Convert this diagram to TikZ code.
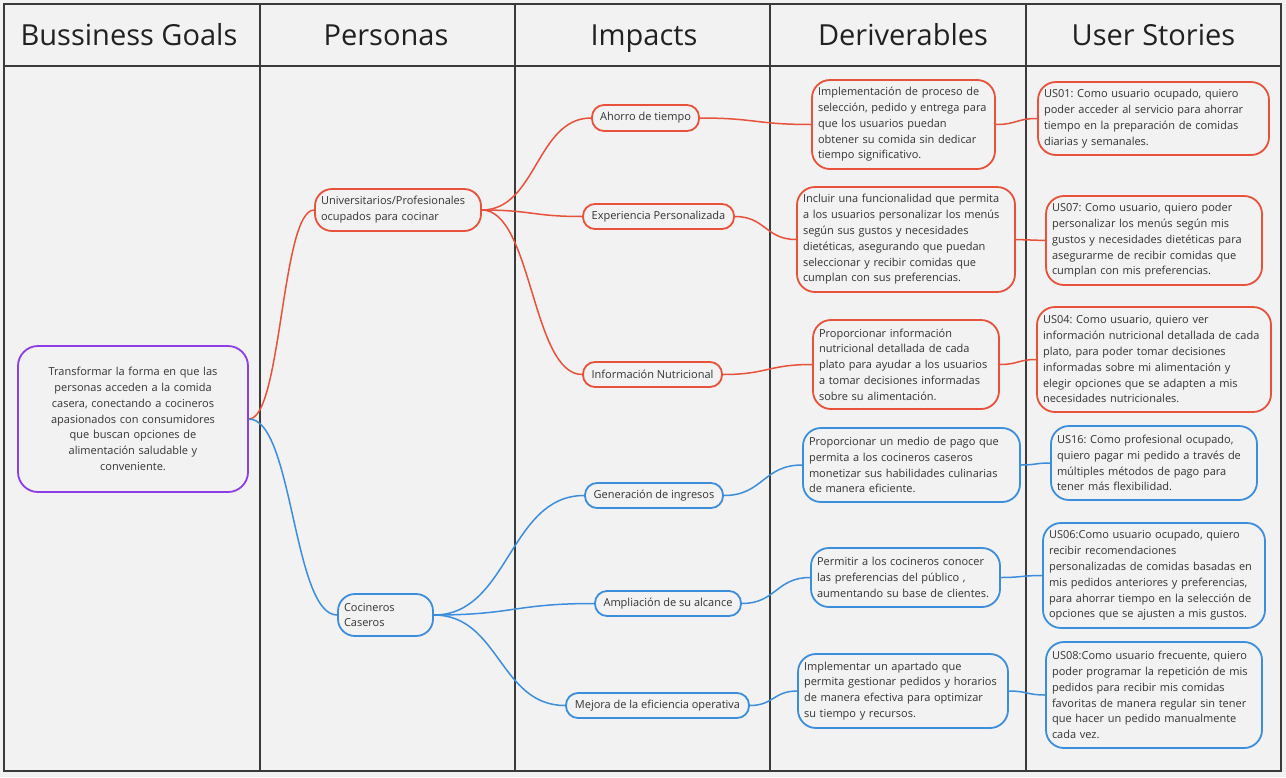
\documentclass[tikz,border=0pt]{standalone}
\usepackage{fontspec}
\setmainfont{Open Sans}
\usetikzlibrary{calc}
\frenchspacing
\definecolor{bg}{HTML}{F2F2F2}
\definecolor{gridc}{HTML}{3A3A3A}
\definecolor{redc}{HTML}{E8513A}
\definecolor{bluec}{HTML}{3C8EDC}
\definecolor{purc}{HTML}{8E3DE6}
\definecolor{txt}{HTML}{333333}
\begin{document}
\begin{tikzpicture}[x=1pt,y=-1pt,
  every node/.style={text=txt, font=\fontsize{11}{15.8}\selectfont},
  box/.style={draw, line width=1.8pt, rounded corners=18pt, align=left, inner xsep=6pt, inner ysep=0pt},
  pill/.style={draw, line width=1.8pt, rounded corners=12pt, inner sep=0pt, align=center},
  pbox/.style={draw, line width=1.8pt, rounded corners=17pt, align=left, inner xsep=6pt, inner ysep=0pt},
  rbox/.style={box, draw=redc},
  bbox/.style={box, draw=bluec},
  rpill/.style={pill, draw=redc},
  bpill/.style={pill, draw=bluec},
  head/.style={font=\fontsize{29}{34}\selectfont, text=black!87, anchor=base},
  link/.style={line width=1.5pt, to path={let \p1=(\tikztostart), \p2=(\tikztotarget) in .. controls ({(\x1+\x2)/2},\y1) and ({(\x1+\x2)/2},\y2) .. (\tikztotarget)}}
]
\fill[bg] (0,0) rectangle (1286,777);
\useasboundingbox (0,0) rectangle (1286,777);

% grid
\draw[gridc, line width=2pt] (4,4) rectangle (1281,771);
\draw[gridc, line width=2pt] (4,66) -- (1281,66);
\foreach \xx in {260,515,770,1026} \draw[gridc, line width=2pt] (\xx,4) -- (\xx,771);

% headers
\node[head] (h1) at (129,45) {Bussiness Goals};
\node[head] (h2) at (386,45) {Personas};
\node[head] (h3) at (644,45) {Impacts};
\node[head] (h4) at (903,45) {Deriverables};
\node[head] (h5) at (1153.5,45) {User Stories};

% goal
\node[draw=purc, line width=1.8pt, rounded corners=20pt, align=center, minimum width=230pt, minimum height=146pt, text width=218pt, inner xsep=6pt] (goal) at (133,419)
 {Transformar la forma en que las\\ personas acceden a la comida\\ casera, conectando a cocineros\\ apasionados con consumidores\\ que buscan opciones de\\ alimentación saludable y\\ conveniente.};

% personas
\node[pbox, draw=redc, minimum width=166pt, minimum height=42pt, text width=154pt] (p1) at (398,210)
 {Universitarios/Profesionales\\ ocupados para cocinar};
\node[pbox, draw=bluec, minimum width=95pt, minimum height=42pt, text width=83pt] (p2) at (385.5,615)
 {Cocineros\\ Caseros};

% impacts
\node[rpill, minimum width=107pt, minimum height=26pt] (i1) at (645.5,118) {Ahorro de tiempo};
\node[rpill, minimum width=151pt, minimum height=25pt] (i2) at (658.5,216.5) {Experiencia Personalizada};
\node[rpill, minimum width=139pt, minimum height=25pt] (i3) at (652.5,374.5) {Información Nutricional};
\node[bpill, minimum width=138pt, minimum height=25pt] (i4) at (654,495.5) {Generación de ingresos};
\node[bpill, minimum width=146pt, minimum height=25pt] (i5) at (668,603.5) {Ampliación de su alcance};
\node[bpill, minimum width=183pt, minimum height=25pt] (i6) at (657.5,705.5) {Mejora de la eficiencia operativa};

% deliverables
\node[rbox, minimum width=183pt, minimum height=89pt, text width=171pt] (d1) at (903.5,124.5)
 {Implementación de proceso de\\ selección, pedido y entrega para\\ que los usuarios puedan\\ obtener su comida sin dedicar\\ tiempo significativo.};
\node[rbox, minimum width=218pt, minimum height=105pt, text width=206pt] (d2) at (906,239.5)
 {Incluir una funcionalidad que permita\\ a los usuarios personalizar los menús\\ según sus gustos y necesidades\\ dietéticas, asegurando que puedan\\ seleccionar y recibir comidas que\\ cumplan con sus preferencias.};
\node[rbox, minimum width=186pt, minimum height=89pt, text width=174pt] (d3) at (906,364.5)
 {Proporcionar información\\ nutricional detallada de cada\\ plato para ayudar a los usuarios\\ a tomar decisiones informadas\\ sobre su alimentación.};
\node[bbox, minimum width=217pt, minimum height=74pt, text width=205pt] (d4) at (911.5,465)
 {Proporcionar un medio de pago que\\ permita a los cocineros caseros\\ monetizar sus habilidades culinarias\\ de manera eficiente.};
\node[bbox, minimum width=189pt, minimum height=59pt, text width=177pt] (d5) at (905.5,577.5)
 {Permitir a los cocineros conocer\\ las preferencias del público ,\\ aumentando su base de clientes.};
\node[bbox, minimum width=210pt, minimum height=74pt, text width=198pt] (d6) at (903,691)
 {Implementar un apartado que\\ permita gestionar pedidos y horarios\\ de manera efectiva para optimizar\\ su tiempo y recursos.};

% user stories
\node[rbox, minimum width=231pt, minimum height=73pt, text width=219pt] (u1) at (1153.5,118.5)
 {US01: Como usuario ocupado, quiero\\ poder acceder al servicio para ahorrar\\ tiempo en la preparación de comidas\\ diarias y semanales.};
\node[rbox, minimum width=216pt, minimum height=89pt, text width=204pt] (u7) at (1154,240.5)
 {US07: Como usuario, quiero poder\\ personalizar los menús según mis\\ gustos y necesidades dietéticas para\\ asegurarme de recibir comidas que\\ cumplan con mis preferencias.};
\node[rbox, minimum width=234pt, minimum height=105pt, text width=222pt] (u4) at (1154,359.5)
 {US04: Como usuario, quiero ver\\ información nutricional detallada de cada\\ plato, para poder tomar decisiones\\ informadas sobre mi alimentación y\\ elegir opciones que se adapten a mis\\ necesidades nutricionales.};
\node[bbox, minimum width=206pt, minimum height=74pt, text width=194pt] (u16) at (1154,463)
 {US16: Como profesional ocupado,\\ quiero pagar mi pedido a través de\\ múltiples métodos de pago para\\ tener más flexibilidad.};
\node[bbox, minimum width=222pt, minimum height=105pt, text width=210pt] (u6) at (1154,575.5)
 {US06:Como usuario ocupado, quiero\\ recibir recomendaciones\\ personalizadas de comidas basadas en\\ mis pedidos anteriores y preferencias,\\ para ahorrar tiempo en la selección de\\ opciones que se ajusten a mis gustos.};
\node[bbox, minimum width=216pt, minimum height=106pt, text width=204pt] (u8) at (1154,695)
 {US08:Como usuario frecuente, quiero\\ poder programar la repetición de mis\\ pedidos para recibir mis comidas\\ favoritas de manera regular sin tener\\ que hacer un pedido manualmente\\ cada vez.};

% connectors
\draw[redc, link] (goal.east) to (p1.west);
\draw[bluec, link] (goal.east) to (p2.west);
\draw[redc, link] (p1.east) to (i1.west);
\draw[redc, link] (p1.east) to (i2.west);
\draw[redc, link] (p1.east) to (i3.west);
\draw[bluec, link] (p2.east) to (i4.west);
\draw[bluec, link] (p2.east) to (i5.west);
\draw[bluec, link] (p2.east) to (i6.west);
\draw[redc, link] (i1.east) to (d1.west);
\draw[redc, link] (i2.east) to (d2.west);
\draw[redc, link] (i3.east) to (d3.west);
\draw[bluec, link] (i4.east) to (d4.west);
\draw[bluec, link] (i5.east) to (d5.west);
\draw[bluec, link] (i6.east) to (d6.west);
\draw[redc, link] (d1.east) to (u1.west);
\draw[redc, link] (d2.east) to (u7.west);
\draw[redc, link] (d3.east) to (u4.west);
\draw[bluec, link] (d4.east) to (u16.west);
\draw[bluec, link] (d5.east) to (u6.west);
\draw[bluec, link] (d6.east) to (u8.west);
\end{tikzpicture}
\end{document}
